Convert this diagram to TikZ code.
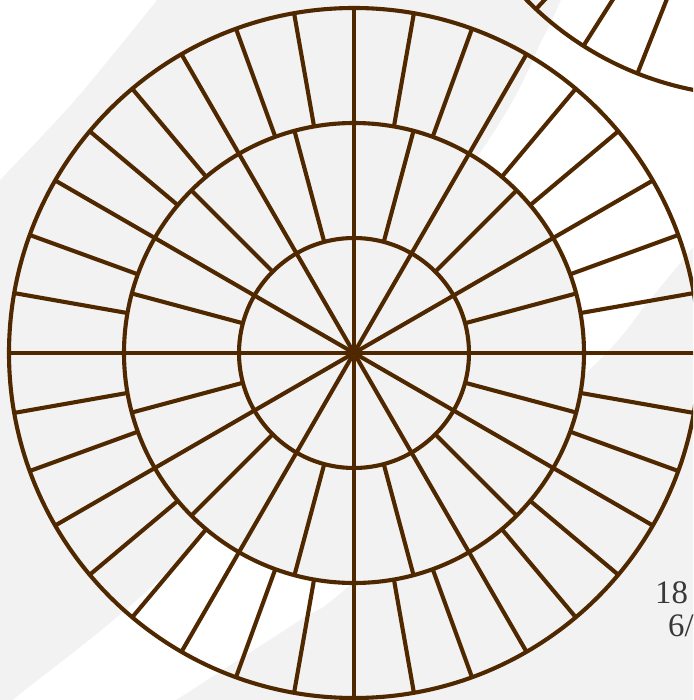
\documentclass[tikz,border=0pt]{standalone}
\usepackage{fontspec}
\setmainfont{Liberation Serif}
\usepackage{tikz}
\definecolor{wheel}{HTML}{502800}
\definecolor{paper}{HTML}{F2F2F2}
\definecolor{ink}{HTML}{383838}

\begin{document}
\begin{tikzpicture}[x=0.03cm, y=0.03cm,
  rim/.style={draw=wheel, line width=3.5pt},
  spoke/.style={draw=wheel, line width=3.5pt},
  datum/.style={font=\fontsize{28}{33}\selectfont, text=ink,
    anchor=base west, inner sep=0pt}]
\useasboundingbox (-354,-347) rectangle (339,353);
\clip (-354,-347) rectangle (339,353);
% backdrop with its white swathes
\fill[paper] (-360,-360) rectangle (360,360);
\fill[white] plot[smooth] coordinates {(-372,152) (-354,173) (-279,253)
  (-197,353) (-183,372)} -- (-372,372) -- cycle;
\fill[white] plot[smooth] coordinates {(-362,-365) (-341,-347) (-149,-179)
  (126,200) (188,313) (207,353) (215,372)} -- (360,372)
  -- plot[smooth] coordinates {(360,132) (339,106) (293,50) (233,-19)
  (-4,-232) (-54,-267) (-178,-347) (-206,-365)} -- cycle;
\coordinate (hub) at (0,0);
\fill[paper] (hub) circle[radius=230];
% the big wheel
\foreach \a in {0,30,...,330}
  \draw[spoke] (hub) -- (\a:345);
\foreach \a in {15,45,...,345}
  \draw[spoke] (\a:115) -- (\a:230);
\foreach \a in {0,30,...,330}
  \foreach \b in {10,20}
    \draw[spoke] (\a+\b:230) -- (\a+\b:345);
\foreach \r in {115,230,345}
  \draw[rim] (hub) circle[radius=\r];
% the next wheel, top right
\begin{scope}[shift={(402,579)}]
\coordinate (hub2) at (0,0);
\draw[rim] (hub2) circle[radius=322];
\foreach \a in {226.9,237.6,248.4}
  \draw[spoke] (\a:322) -- (\a:200);
\end{scope}
% date
\node[datum] (day) at (301,-250) {18};
\node[datum] (month) at (314,-283) {6/};
\end{tikzpicture}
\end{document}
